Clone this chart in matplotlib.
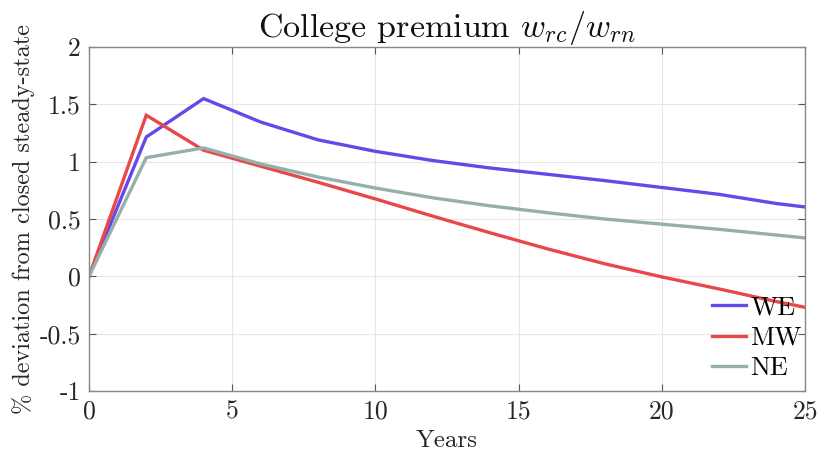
import matplotlib
matplotlib.use("Agg")
import matplotlib.pyplot as plt

years = [0, 2, 4, 6, 8, 10, 12, 14, 16, 18, 20, 22, 24, 25]
we = [0, 1.215, 1.55, 1.345, 1.19, 1.09, 1.01, 0.945, 0.89, 0.835, 0.775, 0.715, 0.635, 0.605]
mw = [0, 1.405, 1.10, 0.96, 0.82, 0.675, 0.525, 0.38, 0.24, 0.11, -0.005, -0.11, -0.22, -0.27]
ne = [0, 1.035, 1.12, 0.98, 0.866, 0.77, 0.685, 0.615, 0.555, 0.50, 0.455, 0.41, 0.36, 0.335]
labels = ["WE", "MW", "NE"]
colors = ["#6648E8", "#E8484A", "#95B0AC"]
xticks = [0, 5, 10, 15, 20, 25]
yticks = [-1, -0.5, 0, 0.5, 1, 1.5, 2]
yticklabels = ["-1", "-0.5", "0", "0.5", "1", "1.5", "2"]

plt.rcParams["font.family"] = "cmr10"
plt.rcParams["mathtext.fontset"] = "cm"
plt.rcParams["axes.unicode_minus"] = False

fig = plt.figure(figsize=(8.17, 4.57), dpi=100)
ax = fig.add_axes([89/817, 1-391/457, (805-89)/817, (391-47)/457])

for series, lab, c in zip([we, mw, ne], labels, colors):
    ax.plot(years, series, color=c, lw=2.4, label=lab, solid_joinstyle="miter")

ax.set_xlim(0, 25)
ax.set_ylim(-1, 2)
ax.set_xticks(xticks)
ax.set_xticklabels([str(t) for t in xticks])
ax.set_yticks(yticks)
ax.set_yticklabels(yticklabels)
ax.grid(True, color="#e6e6e6", lw=0.8)
ax.set_axisbelow(True)
ax.tick_params(direction="in", top=True, right=True, labelsize=18.5, colors="#262626",
               length=5, width=0.8, pad=6)
for sp in ax.spines.values():
    sp.set_color("#888888")
    sp.set_linewidth(1.0)
ax.tick_params(axis="both", color="#555555")

ax.set_title(r"College premium $w_{rc}/w_{rn}$", fontsize=24.5, pad=7, color="#111111")
ax.set_xlabel("Years", fontsize=18, color="#262626", labelpad=5)
ax.set_ylabel("% deviation from closed steady-state", fontsize=17.5, color="#262626", labelpad=3)

leg = ax.legend(loc="lower right", frameon=False, fontsize=19, handlelength=1.3,
                handletextpad=0.15, labelspacing=0.25, borderaxespad=0.3,
                bbox_to_anchor=(1.021, -0.022))

fig.savefig("out.png", dpi=100)
